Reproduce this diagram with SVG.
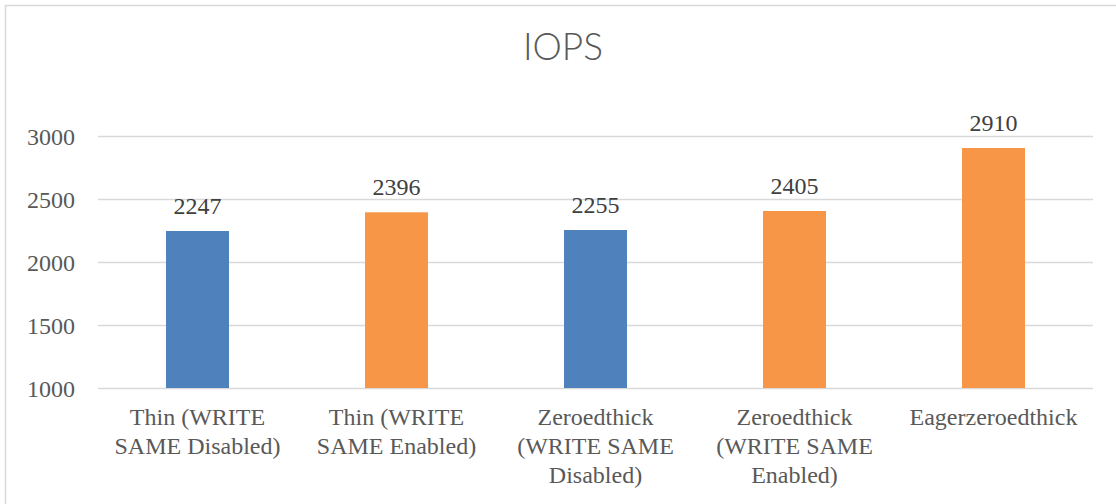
<svg xmlns="http://www.w3.org/2000/svg" width="1116" height="504" viewBox="0 0 1116 504">
  <style>
    .frame { fill: #ffffff; stroke: #d9d9d9; stroke-width: 1.5; }
    .grid line { stroke: #d9d9d9; stroke-width: 1.5; }
    .title { font-family: "Lato", "Open Sans", sans-serif; font-weight: 300; font-size: 37px; fill: #595959; text-anchor: middle; }
    .tick { font-family: "Liberation Serif", "DejaVu Serif", serif; font-size: 24px; fill: #595959; text-anchor: end; }
    .cat { font-family: "Liberation Serif", "DejaVu Serif", serif; font-size: 24px; fill: #595959; text-anchor: middle; }
    .val { font-family: "Liberation Serif", "DejaVu Serif", serif; font-size: 24px; fill: #404040; text-anchor: middle; }
    .blue { fill: #4f81bd; }
    .orange { fill: #f79646; }
  </style>

  <rect x="0" y="0" width="1116" height="504" fill="#ffffff"/>
  <rect class="frame" x="5.5" y="5.5" width="1130" height="520"/>

  <text class="title" x="563" y="60">IOPS</text>

  <!-- value axis: 1000..3000, 500 per step -->
  <g id="grid" class="grid">
    <line x1="98" y1="136.5" x2="1093" y2="136.5"/>
    <line x1="98" y1="199.5" x2="1093" y2="199.5"/>
    <line x1="98" y1="262.5" x2="1093" y2="262.5"/>
    <line x1="98" y1="325.5" x2="1093" y2="325.5"/>
    <line x1="98" y1="388.5" x2="1093" y2="388.5"/>
  </g>
  <g id="ticks">
    <text class="tick" x="75" y="144.5">3000</text>
    <text class="tick" x="75" y="207.5">2500</text>
    <text class="tick" x="75" y="270.5">2000</text>
    <text class="tick" x="75" y="333.5">1500</text>
    <text class="tick" x="75" y="396.5">1000</text>
  </g>

  <g id="bar-thin-disabled">
    <rect class="blue" x="166" y="231" width="63" height="157"/>
    <text class="val" x="197.5" y="214">2247</text>
    <text class="cat" x="197.5" y="425">Thin (WRITE</text>
    <text class="cat" x="197.5" y="454">SAME Disabled)</text>
  </g>
  <g id="bar-thin-enabled">
    <rect class="orange" x="365" y="212.3" width="63" height="175.7"/>
    <text class="val" x="396.5" y="195">2396</text>
    <text class="cat" x="396.5" y="425">Thin (WRITE</text>
    <text class="cat" x="396.5" y="454">SAME Enabled)</text>
  </g>
  <g id="bar-zeroed-disabled">
    <rect class="blue" x="564" y="230" width="63" height="158"/>
    <text class="val" x="595.5" y="213">2255</text>
    <text class="cat" x="595.5" y="425">Zeroedthick</text>
    <text class="cat" x="595.5" y="454">(WRITE SAME</text>
    <text class="cat" x="595.5" y="483">Disabled)</text>
  </g>
  <g id="bar-zeroed-enabled">
    <rect class="orange" x="763" y="211" width="63" height="177"/>
    <text class="val" x="794.5" y="194">2405</text>
    <text class="cat" x="794.5" y="425">Zeroedthick</text>
    <text class="cat" x="794.5" y="454">(WRITE SAME</text>
    <text class="cat" x="794.5" y="483">Enabled)</text>
  </g>
  <g id="bar-eagerzeroed">
    <rect class="orange" x="962" y="148" width="63" height="240"/>
    <text class="val" x="993.5" y="131">2910</text>
    <text class="cat" x="993.5" y="425">Eagerzeroedthick</text>
  </g>
</svg>
